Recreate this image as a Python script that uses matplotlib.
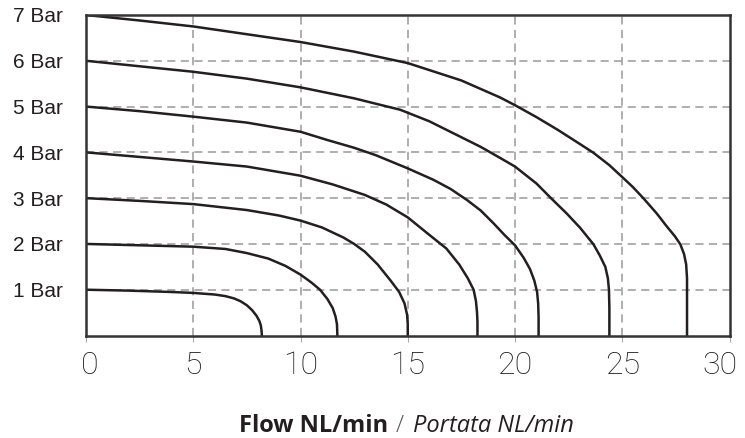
import matplotlib.pyplot as plt
import matplotlib.transforms as mtransforms
import numpy as np

# pressure curves: flow (NL/min) vs pressure (bar)
flow_1bar = [0, 2, 4, 5, 6, 6.5, 6.9, 7.2, 7.5, 7.75, 7.95, 8.08, 8.15, 8.18, 8.2]
pres_1bar = [1, 0.98, 0.95, 0.93, 0.895, 0.86, 0.81, 0.75, 0.66, 0.55, 0.43, 0.32, 0.22, 0.12, 0]

flow_2bar = [0, 2.5, 5, 6.5, 7.5, 8.5, 9.3, 10, 10.5, 10.91, 11.25, 11.5, 11.63, 11.7, 11.72]
pres_2bar = [2, 1.97, 1.94, 1.89, 1.8, 1.68, 1.52, 1.33, 1.16, 1.0, 0.8, 0.6, 0.42, 0.25, 0]

flow_3bar = [0, 2.5, 5, 7.5, 9, 10, 11, 12, 12.5, 13, 13.6, 14.2, 14.6, 14.85, 14.97, 15.0, 15.0]
pres_3bar = [3, 2.94, 2.87, 2.74, 2.62, 2.51, 2.36, 2.14, 2.0, 1.83, 1.55, 1.2, 0.95, 0.7, 0.45, 0.25, 0]

flow_4bar = [0, 2.5, 5, 7.5, 10, 11.5, 13, 14, 15, 16, 16.8, 17.4, 17.8, 18.07, 18.18, 18.23, 18.25, 18.25]
pres_4bar = [4, 3.9, 3.8, 3.69, 3.49, 3.3, 3.07, 2.86, 2.58, 2.2, 1.9, 1.55, 1.25, 1.0, 0.75, 0.5, 0.3, 0]

flow_5bar = [0, 2.5, 5, 7.5, 10, 11.25, 12.5, 13.5, 15, 16.2, 17, 17.76, 18.4, 19, 19.5, 20.0,
             20.4, 20.7, 20.9, 21.03, 21.08, 21.1, 21.1]
pres_5bar = [5, 4.9, 4.78, 4.65, 4.45, 4.27, 4.1, 3.94, 3.65, 3.4, 3.2, 2.96, 2.73, 2.45, 2.2, 1.97,
             1.7, 1.45, 1.2, 0.95, 0.7, 0.4, 0]

flow_6bar = [0, 2.5, 5, 7.5, 10, 12.5, 14.65, 16, 17.2, 18.4, 19.3, 20, 21, 21.72, 22.4, 23.04,
             23.66, 23.95, 24.21, 24.33, 24.38, 24.4, 24.4]
pres_6bar = [6, 5.88, 5.76, 5.61, 5.42, 5.18, 4.93, 4.68, 4.4, 4.12, 3.88, 3.69, 3.32, 2.98, 2.67, 2.35,
             1.99, 1.75, 1.5, 1.25, 1.0, 0.6, 0]

flow_7bar = [0, 2.5, 5, 7.5, 10, 12.5, 15, 17.5, 19.3, 20, 21, 22, 23, 23.66, 24.4, 25, 25.5, 26,
             26.6, 27.08, 27.45, 27.71, 27.88, 27.98, 28.02, 28.02]
pres_7bar = [7, 6.88, 6.75, 6.58, 6.41, 6.2, 5.95, 5.57, 5.2, 5.03, 4.77, 4.49, 4.19, 3.99, 3.72, 3.46, 3.24, 2.99,
             2.67, 2.38, 2.17, 1.99, 1.78, 1.55, 1.25, 0]

flows = [flow_1bar, flow_2bar, flow_3bar, flow_4bar, flow_5bar, flow_6bar, flow_7bar]
pressures = [pres_1bar, pres_2bar, pres_3bar, pres_4bar, pres_5bar, pres_6bar, pres_7bar]

xticks = [0, 5, 10, 15, 20, 25, 30]
yticks = [1, 2, 3, 4, 5, 6, 7]
ytick_labels = ['1 Bar', '2 Bar', '3 Bar', '4 Bar', '5 Bar', '6 Bar', '7 Bar']

fig = plt.figure(figsize=(7.45, 4.38), dpi=100)
ax = fig.add_axes([86/745, 1-335.5/438, (729.5-86)/745, (335.5-15)/438])

# dashed grid
for y in yticks[:-1]:
    ax.axhline(y, color='#a8a8a8', lw=1.3, ls=(0, (4.5, 3)), zorder=1)
for x in xticks[1:-1]:
    ax.axvline(x, color='#a8a8a8', lw=1.3, ls=(0, (4.5, 3)), zorder=1)

for f, p in zip(flows, pressures):
    ax.plot(f, p, color='#231f20', lw=1.8, zorder=3, solid_joinstyle='round')

ax.set_xlim(0, 30)
ax.set_ylim(0, 7)
ax.set_xticks(xticks)
ax.set_xticklabels([str(x) for x in xticks], fontsize=23, family='Roboto',
                   fontweight='light', color='#1a1a1a')
ax.set_yticks(yticks)
ax.set_yticklabels(ytick_labels, fontsize=15, family='Liberation Sans', color='#231f20')
ax.tick_params(axis='x', length=4, color='#aaaaaa', pad=7)
ax.tick_params(axis='y', length=0, pad=17)
for s in ax.spines.values():
    s.set_color('#333333')
    s.set_linewidth(1.8)
    s.set_zorder(4)

# last label sits a little left of its tick, as in the original
lbl = ax.get_xticklabels()
lbl[-1].set_transform(lbl[-1].get_transform() + mtransforms.ScaledTranslation(-10/100, 0, fig.dpi_scale_trans))
lbl[0].set_transform(lbl[0].get_transform() + mtransforms.ScaledTranslation(4/100, 0, fig.dpi_scale_trans))

fig.text(388/745, 1-432/438, 'Flow NL/min', ha='right', va='baseline',
         fontsize=17, fontweight='bold', family='Open Sans', color='#231f20')
fig.text(400/745, 1-432/438, '/', ha='center', va='baseline',
         fontsize=17, fontweight='light', family='Open Sans', color='#555555')
fig.text(413/745, 1-432/438, 'Portata NL/min', ha='left', va='baseline',
         fontsize=17, fontstyle='italic', family='Open Sans', color='#231f20')

plt.savefig('out.png', dpi=100)
plt.close()
